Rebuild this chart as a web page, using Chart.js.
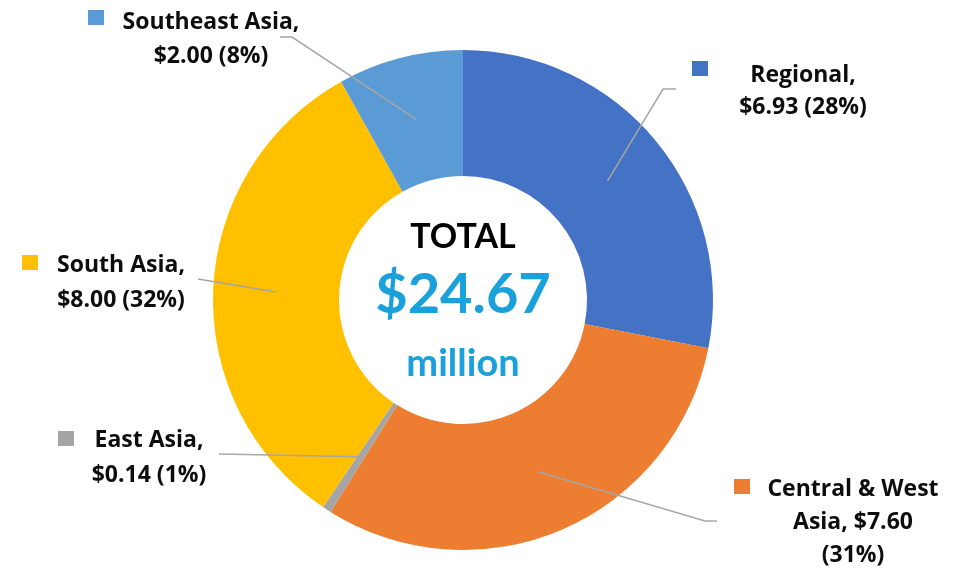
<!DOCTYPE html>
<html>
<head>
<meta charset="utf-8">
<script src="https://cdn.jsdelivr.net/npm/chart.js@4"></script>
<style>
  html, body { margin: 0; padding: 0; background: #ffffff; }
  #wrap { width: 966px; height: 572px; }
</style>
</head>
<body>
<div id="wrap"><canvas id="c" width="966" height="572"></canvas></div>
<script>
const categories = ['Regional', 'Central & West Asia', 'East Asia', 'South Asia', 'Southeast Asia'];
const values = [6.93, 7.60, 0.14, 8.00, 2.00];
const colors = ['#4472C4', '#ED7D31', '#A5A5A5', '#FFC000', '#5B9BD5'];
const labelLines = [
  ['Regional,', '$6.93 (28%)'],
  ['Central & West', 'Asia, $7.60', '(31%)'],
  ['East Asia,', '$0.14 (1%)'],
  ['South Asia,', '$8.00 (32%)'],
  ['Southeast Asia,', '$2.00 (8%)']
];
const centerLines = ['TOTAL', '$24.67', 'million'];

// label layout: text center x, first baseline y, line height, legend square, leader path (outer points)
const layout = [
  { cx: 803, y0: 82, lh: 32, sq: [692, 61], path: [[663, 89], [676, 89]] },
  { cx: 853, y0: 496, lh: 33, sq: [734, 479], path: [[705, 521], [717, 521]] },
  { cx: 149, y0: 447, lh: 35, sq: [58, 431], path: [[219, 454]] },
  { cx: 121, y0: 272, lh: 35, sq: [22, 255], path: [[198, 279]] },
  { cx: 211, y0: 29, lh: 34, sq: [88, 10], path: [[292, 37], [280, 37]] }
];

const labelPlugin = {
  id: 'labels',
  afterDatasetsDraw(chart) {
    const ctx = chart.ctx;
    const meta = chart.getDatasetMeta(0);
    ctx.save();
    meta.data.forEach((arc, i) => {
      const p = arc.getProps(['x', 'y', 'startAngle', 'endAngle', 'innerRadius', 'outerRadius'], true);
      const mid = (p.startAngle + p.endAngle) / 2;
      const r = (p.innerRadius + p.outerRadius) / 2;
      const sx = p.x + r * Math.cos(mid);
      const sy = p.y + r * Math.sin(mid);
      const L = layout[i];
      ctx.strokeStyle = '#A6A6A6';
      ctx.lineWidth = 1.5;
      ctx.beginPath();
      ctx.moveTo(sx, sy);
      L.path.forEach(pt => ctx.lineTo(pt[0], pt[1]));
      ctx.stroke();
      ctx.fillStyle = colors[i];
      ctx.fillRect(L.sq[0], L.sq[1], 16, 15);
      ctx.fillStyle = '#0d0d0d';
      ctx.font = 'bold 23px "Open Sans"';
      ctx.textAlign = 'center';
      ctx.textBaseline = 'alphabetic';
      labelLines[i].forEach((t, k) => ctx.fillText(t, L.cx, L.y0 + k * L.lh));
    });
    const cx = meta.data[0].x;
    ctx.textAlign = 'center';
    ctx.fillStyle = '#000000';
    ctx.font = 'bold 34px Lato';
    ctx.fillText(centerLines[0], cx, 248);
    ctx.fillStyle = '#1AA0DA';
    ctx.font = 'bold 56px Lato';
    ctx.fillText(centerLines[1], cx, 313);
    ctx.font = 'bold 38px Lato';
    ctx.fillText(centerLines[2], cx, 376);
    ctx.restore();
  }
};

new Chart(document.getElementById('c'), {
  type: 'doughnut',
  data: {
    labels: categories,
    datasets: [{
      data: values,
      backgroundColor: colors,
      borderWidth: 0
    }]
  },
  options: {
    responsive: false,
    animation: false,
    cutout: '49.6%',
    layout: { padding: { top: 50, bottom: 22, left: 0, right: 40 } },
    plugins: {
      legend: { display: false },
      tooltip: { enabled: false }
    }
  },
  plugins: [labelPlugin]
});
</script>
</body>
</html>
